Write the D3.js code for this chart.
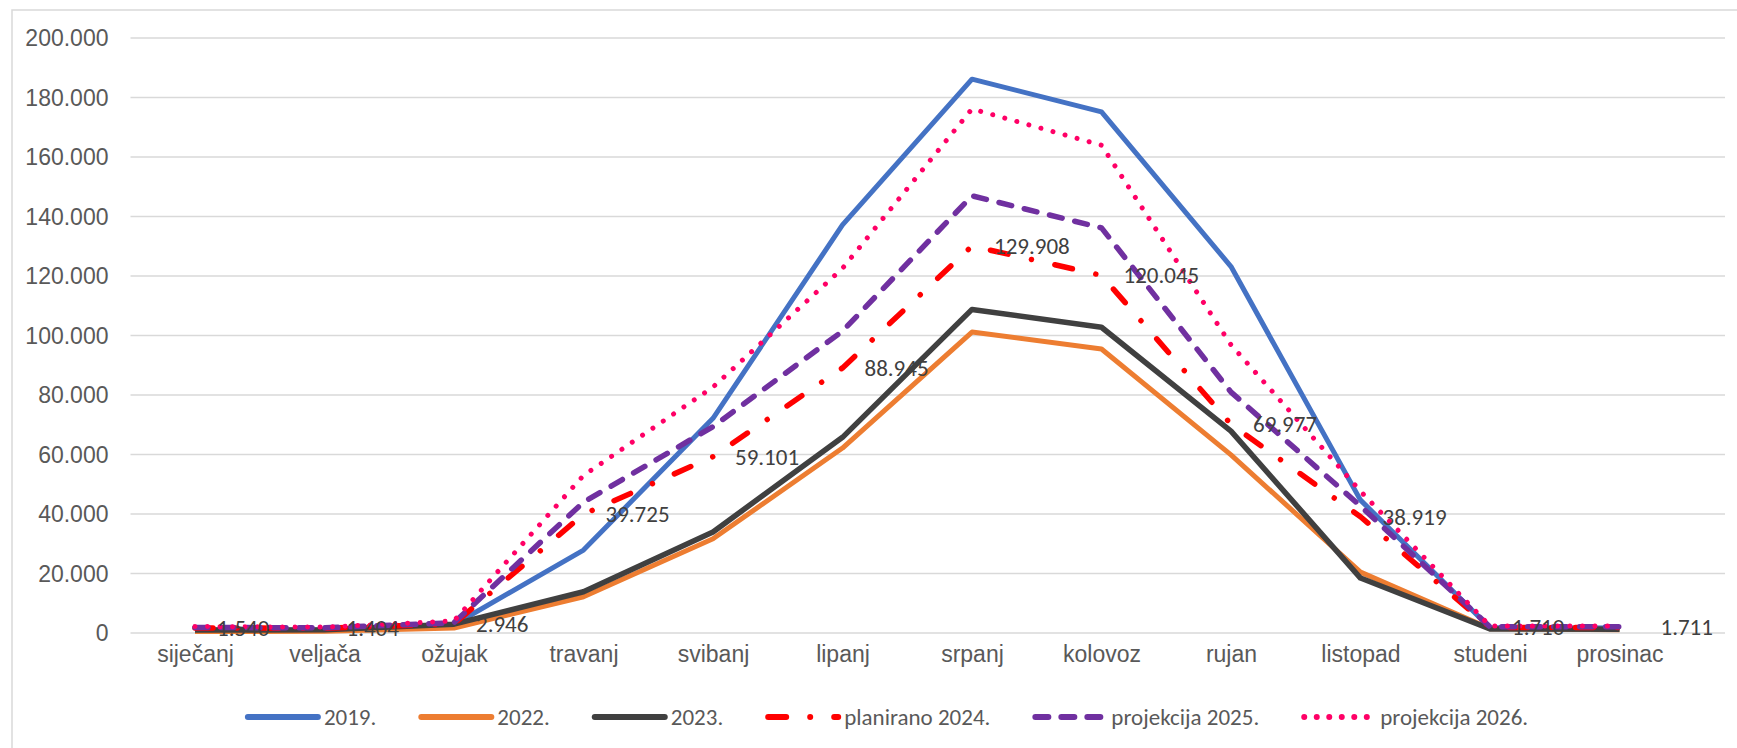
<!DOCTYPE html>
<html>
<head>
<meta charset="utf-8">
<script src="https://cdn.jsdelivr.net/npm/d3@7"></script>
<style>
  html, body { margin: 0; padding: 0; background: #fff; }
  svg { display: block; font-family: Carlito, Lato, "Noto Sans", sans-serif; }
</style>
</head>
<body>
<svg id="chart" width="1737" height="748"></svg>
<script>
const months = ["siječanj","veljača","ožujak","travanj","svibanj","lipanj","srpanj","kolovoz","rujan","listopad","studeni","prosinac"];
const yTicks = [0, 20000, 40000, 60000, 80000, 100000, 120000, 140000, 160000, 180000, 200000];

const s2019 = [900, 800, 2600, 27700, 72000, 137000, 186000, 175000, 123000, 44500, 1600, 1500];
const s2022 = [300, 400, 1500, 12000, 31500, 62000, 101000, 95300, 59700, 20300, 1300, 900];
const s2023 = [800, 900, 2800, 13700, 33800, 65600, 108600, 102600, 67700, 18300, 1200, 1100];
const s2024 = [1540, 1404, 2946, 39725, 59101, 88945, 129908, 120045, 69977, 38919, 1710, 1711];
const s2025 = [1700, 1550, 3300, 43800, 69200, 101300, 146800, 136000, 80800, 42500, 1900, 1900];
const s2026 = [2000, 1800, 3900, 52800, 82500, 122400, 176000, 163800, 96700, 47500, 2200, 2200];

const seriesNames = ["2019.", "2022.", "2023.", "planirano 2024.", "projekcija 2025.", "projekcija 2026."];
const seriesValues = [s2019, s2022, s2023, s2024, s2025, s2026];

const styles = [
  {color: "#4472C4", width: 5, dash: null},
  {color: "#ED7D31", width: 5, dash: null},
  {color: "#404040", width: 5.5, dash: null},
  {color: "#FF0000", width: 5.5, dash: "18 24 0.01 24"},
  {color: "#7030A0", width: 5.5, dash: "13 13"},
  {color: "#FF0066", width: 5, dash: "0.01 12.5"}
];

const fontSize = 23;
const svg = d3.select("#chart");

// outer border
svg.append("rect")
  .attr("x", 12).attr("y", 10)
  .attr("width", 1737).attr("height", 760)
  .attr("fill", "none").attr("stroke", "#d9d9d9").attr("stroke-width", 1.5);

const gridL = 130.5, gridR = 1725, plotT = 37.5, plotB = 632.5;
const catFirst = 195, catLast = 1619.5;

const x = d3.scalePoint().domain(months).range([catFirst, catLast]);
const y = d3.scaleLinear().domain([0, 200000]).range([plotB, plotT]);

const loc = d3.formatLocale({decimal: ",", thousands: ".", grouping: [3], currency: ["", ""]});
const fmt = loc.format(",d");

// Y axis with gridlines
const yAxis = svg.append("g")
  .attr("transform", `translate(${gridL},0)`)
  .call(d3.axisLeft(y).tickValues(yTicks).tickFormat(fmt).tickSize(-(gridR - gridL)).tickPadding(22));
yAxis.select(".domain").remove();
yAxis.selectAll(".tick line").attr("stroke", "#d9d9d9").attr("stroke-width", 1.6);
yAxis.selectAll(".tick text")
  .attr("fill", "#595959").attr("font-size", fontSize).attr("font-family", null).attr("dy", "0.35em");

// X axis labels
const xAxis = svg.append("g")
  .attr("transform", `translate(0,${plotB})`)
  .call(d3.axisBottom(x).tickSize(0).tickPadding(13));
xAxis.select(".domain").remove();
xAxis.selectAll(".tick text")
  .attr("fill", "#595959").attr("font-size", fontSize).attr("font-family", null);

// lines
const line = d3.line().x((d, i) => x(months[i])).y(d => y(d));
const linesG = svg.append("g");
seriesValues.forEach((vals, k) => {
  const st = styles[k];
  const p = linesG.append("path")
    .datum(vals)
    .attr("d", line)
    .attr("fill", "none")
    .attr("stroke", st.color)
    .attr("stroke-width", st.width)
    .attr("stroke-linejoin", "round")
    .attr("stroke-linecap", st.dash ? "round" : "butt");
  if (st.dash) p.attr("stroke-dasharray", st.dash);
});

// data labels for planirano 2024.
svg.append("g").selectAll("text")
  .data(s2024)
  .join("text")
  .attr("x", (d, i) => x(months[i]) + (i === months.length - 1 ? 41 : 22))
  .attr("y", d => y(d))
  .attr("dy", "0.35em")
  .attr("fill", "#404040")
  .attr("font-size", fontSize)
  .text(d => fmt(d));

// legend
const legendY = 717;
const symLen = 70, symGap = 6, itemGap = 45;
const legend = svg.append("g");
const items = [];
seriesNames.forEach((name, k) => {
  const g = legend.append("g");
  const st = styles[k];
  const l = g.append("line")
    .attr("x1", 0).attr("x2", symLen)
    .attr("y1", 0).attr("y2", 0)
    .attr("stroke", st.color)
    .attr("stroke-width", 6)
    .attr("stroke-linecap", "round");
  if (st.dash) l.attr("stroke-dasharray", st.dash);
  const t = g.append("text")
    .attr("x", symLen + symGap)
    .attr("y", 0)
    .attr("dy", "0.35em")
    .attr("fill", "#595959")
    .attr("font-size", fontSize)
    .text(name);
  items.push({g, w: symLen + symGap + t.node().getComputedTextLength()});
});
const total = d3.sum(items, d => d.w) + itemGap * (items.length - 1);
let cx = 888 - total / 2;
items.forEach(it => {
  it.g.attr("transform", `translate(${cx},${legendY})`);
  cx += it.w + itemGap;
});
</script>
</body>
</html>
